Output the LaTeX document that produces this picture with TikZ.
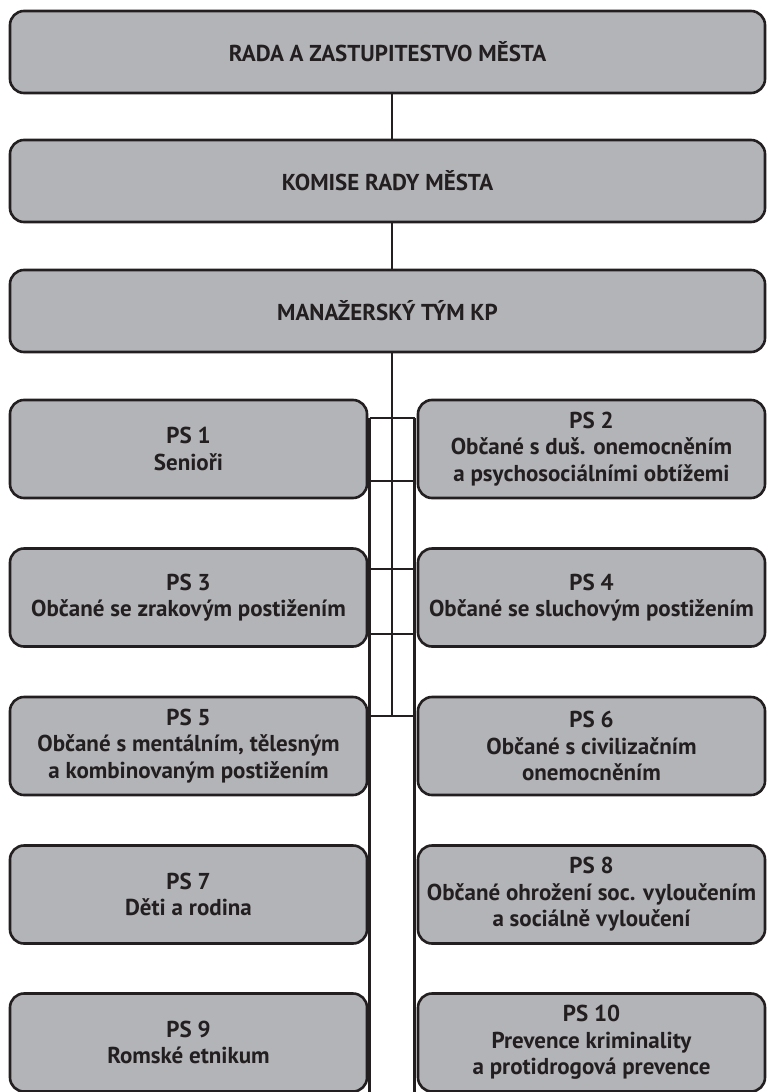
\documentclass[tikz,border=0pt]{standalone}
\usepackage{fontspec}
\setmainfont{PT Sans}
\definecolor{boxfill}{HTML}{B3B4B8}
\definecolor{ink}{HTML}{231F20}
\begin{document}
\begin{tikzpicture}[x=1pt,y=-1pt,
  box/.style={draw=ink, fill=boxfill, line width=2.6pt, rounded corners=14pt,
    text=ink, font=\bfseries\fontsize{23}{26.5}\selectfont, align=center,
    inner sep=0pt, outer sep=0pt},
  bigbox/.style={box, minimum width=755pt, minimum height=82pt},
  lbox/.style={box, minimum width=357pt, minimum height=98pt},
  rbox/.style={box, minimum width=347pt, minimum height=98pt},
  link/.style={draw=ink, line width=2.6pt}]
\useasboundingbox (0,0) rectangle (766,1092);
\fill[white] (0,0) rectangle (766,1092);
% top boxes
\node[bigbox] (rada) at (387.5,52) {RADA A ZASTUPITESTVO MĚSTA};
\node[bigbox] (komise) at (387.5,181) {KOMISE RADY MĚSTA};
\node[bigbox] (tym) at (387.5,311) {MANAŽERSKÝ TÝM KP};
% working groups
\node[lbox] (ps1) at (188.5,449) {PS 1\\Senioři};
\node[rbox] (ps2) at (591.5,449) {PS 2\\Občané s duš. onemocněním\\a psychosociálními obtížemi};
\node[lbox] (ps3) at (188.5,597.5) {PS 3\\Občané se zrakovým postižením};
\node[rbox] (ps4) at (591.5,597.5) {PS 4\\Občané se sluchovým postižením};
\node[lbox] (ps5) at (188.5,746) {PS 5\\Občané s mentálním, tělesným\\a kombinovaným postižením};
\node[rbox] (ps6) at (591.5,746) {PS 6\\Občané s civilizačním\\onemocněním};
\node[lbox] (ps7) at (188.5,894.5) {PS 7\\Děti a rodina};
\node[rbox] (ps8) at (591.5,894.5) {PS 8\\Občané ohrožení soc. vyloučením\\a sociálně vyloučení};
\node[lbox] (ps9) at (188.5,1042.5) {PS 9\\Romské etnikum};
\node[rbox] (ps10) at (591.5,1042.5) {PS 10\\Prevence kriminality\\a protidrogová prevence};
% connectors
\coordinate (spine) at (392,0);
\coordinate (spineend) at (392,716);
\coordinate (lrail) at (369.5,0);
\coordinate (rrail) at (414.5,0);
\coordinate (railtop) at (0,418);
\coordinate (railbot) at (0,1093);
\draw[link] (rada.south -| spine) -- (komise.north -| spine);
\draw[link] (komise.south -| spine) -- (tym.north -| spine);
\draw[link] (tym.south -| spine) -- (spineend);
\draw[link] (railtop -| lrail) -- (railbot -| lrail);
\draw[link] (railtop -| rrail) -- (railbot -| rrail);
\foreach \y in {418,481,569,634,716}{
  \draw[link] (369.5,\y) -- (414.5,\y);
}
\end{tikzpicture}
\end{document}
